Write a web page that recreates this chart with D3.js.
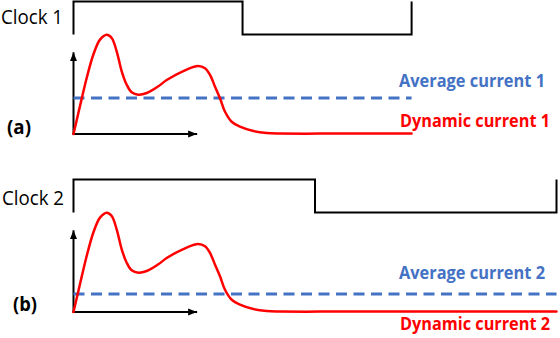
<!DOCTYPE html>
<html>
<head>
<meta charset="utf-8">
<script src="https://cdn.jsdelivr.net/npm/d3@7/dist/d3.min.js"></script>
<style>
  html, body { margin: 0; padding: 0; background: #fff; }
  svg { display: block; }
</style>
</head>
<body>
<svg id="chart" width="560" height="338"></svg>
<script>
// ---- data ----
const curveT = [0, 0.170, 0.273, 0.410, 0.549, 0.687, 0.791, 0.894, 0.998, 1.101, 1.205, 1.342, 1.516, 1.756, 1.930, 2.273, 2.584, 2.723, 2.826, 2.930, 3.033, 3.137, 3.275, 3.447, 3.723, 4.0, 4.275, 5.5, 7.0, 10.0];
const curveI = [0, 3.57, 5.66, 8.01, 9.53, 10.03, 9.70, 8.35, 6.33, 4.98, 4.21, 3.97, 4.14, 4.82, 5.45, 6.36, 6.87, 6.64, 5.96, 4.78, 3.61, 2.25, 1.24, 0.74, 0.30, 0.10, 0.05, 0.04, 0.04, 0.06];
const clockLevel = [0, 1, 1, 0, 0, 1];
const clock1T = [0, 0, 3.5, 3.5, 7, 7];
const clock2T = [0, 0, 5, 5, 10, 10];
const periods = [7, 10];
const averages = [3.64, 1.82];
const panelLabels = ["(a)", "(b)"];
const clockLabels = ["Clock 1", "Clock 2"];
const avgLabels = ["Average current 1", "Average current 2"];
const dynLabels = ["Dynamic current 1", "Dynamic current 2"];
const axisEndT = 2.56;
const axisTopI = 8.25;

// ---- layout ----
const svg = d3.select("#chart");
const x = d3.scaleLinear().domain([0, 10]).range([73.5, 556.5]);
const y = d3.scaleLinear().domain([0, 10]).range([134, 35]);
const yc = d3.scaleLinear().domain([0, 1]).range([34.5, 1.5]);

const defs = svg.append("defs");
defs.append("marker")
  .attr("id", "arrow")
  .attr("viewBox", "0 0 10 8")
  .attr("refX", 10).attr("refY", 4)
  .attr("markerWidth", 9).attr("markerHeight", 8)
  .attr("markerUnits", "userSpaceOnUse")
  .attr("orient", "auto")
  .append("path").attr("d", "M0,0 L10,4 L0,8 Z").attr("fill", "#000");

const panels = [
  { off: 0, clockT: clock1T, labelPos: {px: 7, py: 134, cx: 1, cy: 24, ay: 87, dy: 127} },
  { off: 178, clockT: clock2T, labelPos: {px: 13, py: 133, cx: 2, cy: 27, ay: 101, dy: 152} }
];

const line = d3.line().x(d => x(d[0])).y(d => y(d[1])).curve(d3.curveCatmullRom.alpha(0.5));
const clockLine = d3.line().x(d => x(d[0])).y(d => yc(d[1]));

panels.forEach((p, k) => {
  const g = svg.append("g").attr("transform", `translate(0,${p.off})`);
  const period = periods[k];

  // clock
  const cdata = p.clockT.map((t, i) => [t, clockLevel[i]]);
  g.append("path").attr("d", clockLine(cdata))
    .attr("fill", "none").attr("stroke", "#000").attr("stroke-width", 2)
    .attr("stroke-linejoin", "miter");

  // axes
  g.append("line")
    .attr("x1", x(0)).attr("y1", y(0)).attr("x2", x(0)).attr("y2", y(axisTopI))
    .attr("stroke", "#000").attr("stroke-width", 2).attr("marker-end", "url(#arrow)");
  g.append("line")
    .attr("x1", x(0) - 1).attr("y1", y(0)).attr("x2", x(axisEndT)).attr("y2", y(0))
    .attr("stroke", "#000").attr("stroke-width", 2).attr("marker-end", "url(#arrow)");

  // average current (dashed)
  g.append("line")
    .attr("x1", x(0)).attr("y1", y(averages[k])).attr("x2", x(period)).attr("y2", y(averages[k]))
    .attr("stroke", "#4472C4").attr("stroke-width", 3).attr("stroke-dasharray", "11,6.5");

  // dynamic current
  const cd = curveT.map((t, i) => [t, curveI[i]]).filter(d => d[0] <= period);
  g.append("path").attr("d", line(cd))
    .attr("fill", "none").attr("stroke", "#FF0000").attr("stroke-width", 2.5)
    .attr("stroke-linejoin", "round").attr("stroke-linecap", "round");

  // labels
  const L = p.labelPos;
  g.append("text").text(clockLabels[k])
    .attr("x", L.cx).attr("y", L.cy)
    .attr("font-family", "'Open Sans', sans-serif").attr("font-size", 19.5)
    .attr("textLength", 62).attr("lengthAdjust", "spacingAndGlyphs")
    .attr("fill", "#000");
  g.append("text").text(panelLabels[k])
    .attr("x", L.px).attr("y", L.py)
    .attr("font-family", "'Open Sans', sans-serif").attr("font-size", 19).attr("font-weight", 700)
    .attr("textLength", 24).attr("lengthAdjust", "spacingAndGlyphs")
    .attr("fill", "#000");
  g.append("text").text(avgLabels[k])
    .attr("x", 399).attr("y", L.ay)
    .attr("font-family", "'Open Sans', sans-serif").attr("font-size", 17.5).attr("font-weight", 700)
    .attr("textLength", 146).attr("lengthAdjust", "spacingAndGlyphs")
    .attr("fill", "#4472C4");
  g.append("text").text(dynLabels[k])
    .attr("x", 400).attr("y", L.dy)
    .attr("font-family", "'Open Sans', sans-serif").attr("font-size", 17.5).attr("font-weight", 700)
    .attr("textLength", 150).attr("lengthAdjust", "spacingAndGlyphs")
    .attr("fill", "#FF0000");
});
</script>
</body>
</html>
